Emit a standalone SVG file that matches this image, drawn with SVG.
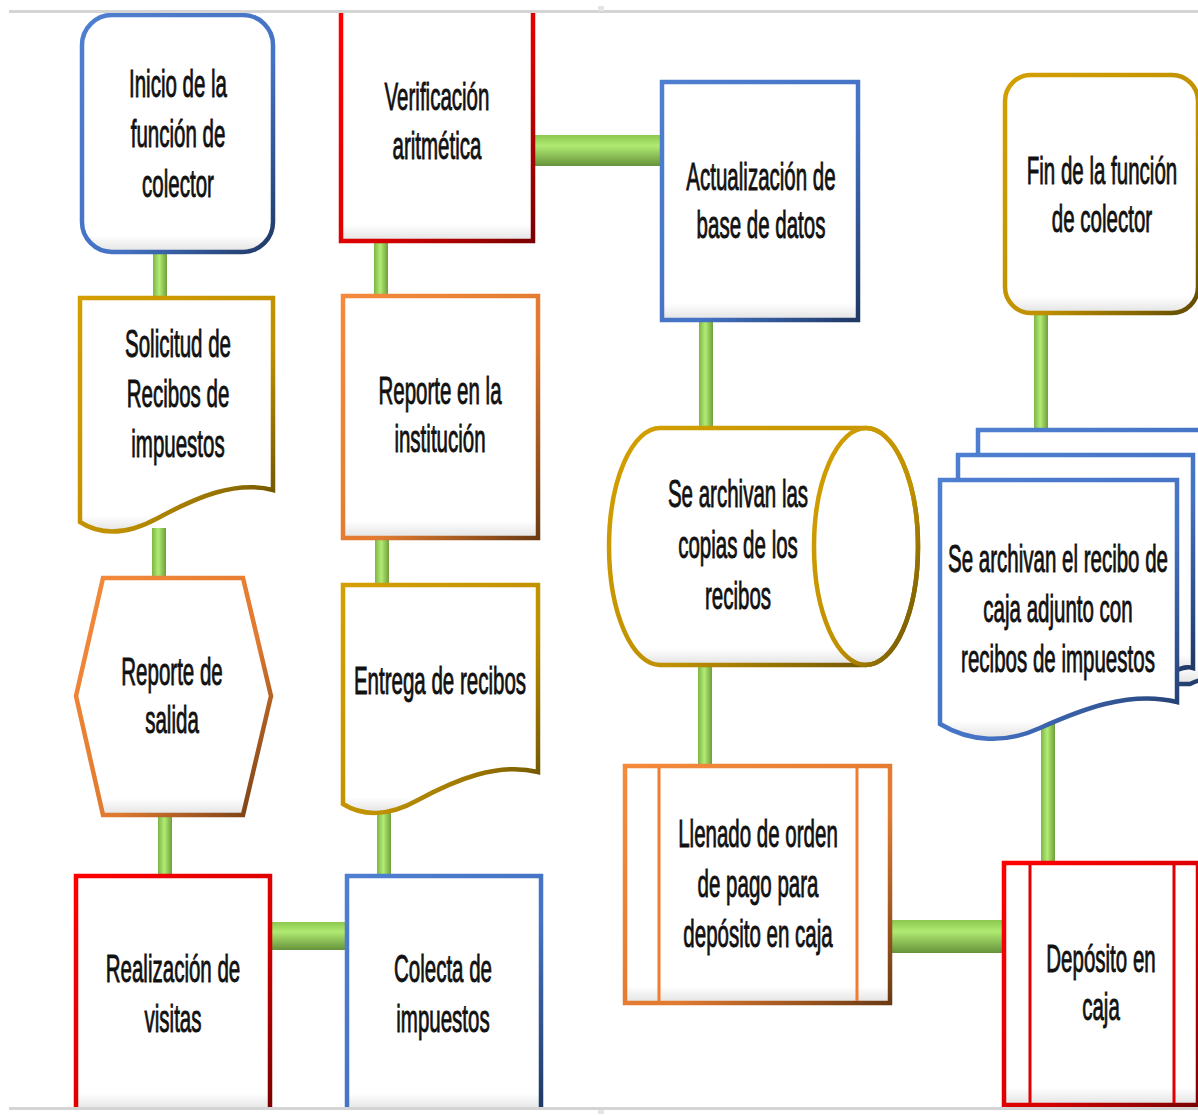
<svg xmlns="http://www.w3.org/2000/svg" width="1198" height="1115" viewBox="0 0 1198 1115">
<defs>
<linearGradient id="gBlue" x1="0" y1="0" x2="1" y2="1"><stop offset="0" stop-color="#4F7FD0"/><stop offset="0.6" stop-color="#4472C4"/><stop offset="1" stop-color="#1F3864"/></linearGradient>
<linearGradient id="gRed" x1="0" y1="0" x2="1" y2="1"><stop offset="0" stop-color="#FF0000"/><stop offset="0.6" stop-color="#D80000"/><stop offset="1" stop-color="#7A0000"/></linearGradient>
<linearGradient id="gGold" x1="0" y1="0" x2="1" y2="1"><stop offset="0" stop-color="#D4A000"/><stop offset="0.6" stop-color="#BF9000"/><stop offset="1" stop-color="#5F4A00"/></linearGradient>
<linearGradient id="gOrange" x1="0" y1="0" x2="1" y2="1"><stop offset="0" stop-color="#F58A3C"/><stop offset="0.6" stop-color="#E07A30"/><stop offset="1" stop-color="#6B3A12"/></linearGradient>
<linearGradient id="gFill" x1="0" y1="0" x2="0" y2="1"><stop offset="0" stop-color="#FFFFFF"/><stop offset="0.93" stop-color="#FFFFFF"/><stop offset="1" stop-color="#E2E2E2"/></linearGradient>
<linearGradient id="gV" x1="0" y1="0" x2="1" y2="0"><stop offset="0" stop-color="#7DB545"/><stop offset="0.45" stop-color="#B2EC74"/><stop offset="1" stop-color="#6E9E3A"/></linearGradient>
<linearGradient id="gH" x1="0" y1="0" x2="0" y2="1"><stop offset="0" stop-color="#8CC850"/><stop offset="0.35" stop-color="#B0EA72"/><stop offset="1" stop-color="#66923A"/></linearGradient>
</defs>
<style>
.t{font-family:"Liberation Sans",Arial,sans-serif;font-size:38px;fill:#111;stroke:#111;stroke-width:0.9;text-anchor:middle}
.b{fill:url(#gFill);stroke:url(#gBlue);stroke-width:4.5}
.r{fill:url(#gFill);stroke:url(#gRed);stroke-width:4.5}
.g{fill:url(#gFill);stroke:url(#gGold);stroke-width:4.5}
.o{fill:url(#gFill);stroke:url(#gOrange);stroke-width:4.5}
.lo{stroke:#ED7D31;stroke-width:3}
.lr{stroke:#E00000;stroke-width:3}
.cv{fill:url(#gV)}
.ch{fill:url(#gH)}
</style>
<rect width="1198" height="1115" fill="#FFFFFF"/>

<g id="connectors">
<rect class="cv" x="153" y="250" width="14" height="50"/>
<rect class="cv" x="152" y="528" width="14" height="52"/>
<rect class="cv" x="158" y="813" width="14" height="65"/>
<rect class="ch" x="268" y="922" width="81" height="28"/>
<rect class="cv" x="377" y="812" width="14" height="66"/>
<rect class="cv" x="375" y="536" width="14" height="51"/>
<rect class="cv" x="374" y="239" width="14" height="59"/>
<rect class="ch" x="531" y="135" width="133" height="31"/>
<rect class="cv" x="699" y="318" width="14" height="112"/>
<rect class="cv" x="698" y="663" width="14" height="105"/>
<rect class="ch" x="888" y="920" width="118" height="33"/>
<rect class="cv" x="1041" y="722" width="14" height="143"/>
<rect class="cv" x="1034" y="311" width="14" height="121"/>
</g>

<g id="inicio">
<rect class="b" x="82" y="15" width="191" height="237" rx="30"/>
<text class="t" transform="translate(178,97) scale(0.54,1)">Inicio de la</text>
<text class="t" transform="translate(178,147) scale(0.54,1)">función de</text>
<text class="t" transform="translate(178,197) scale(0.54,1)">colector</text>
</g>

<g id="solicitud">
<path class="g" d="M80,298 H273 V490 C235,480 195,498 158,518 C125,536 100,535 80,522 Z"/>
<text class="t" transform="translate(178,357) scale(0.54,1)">Solicitud de</text>
<text class="t" transform="translate(178,407) scale(0.54,1)">Recibos de</text>
<text class="t" transform="translate(178,457) scale(0.54,1)">impuestos</text>
</g>

<g id="reporte-salida">
<polygon class="o" points="103,578 243,578 271,696 243,815 103,815 76,696"/>
<text class="t" transform="translate(172,685) scale(0.54,1)">Reporte de</text>
<text class="t" transform="translate(172,733) scale(0.54,1)">salida</text>
</g>

<g id="realizacion">
<path class="r" d="M76,1110 V876 H270 V1110"/>
<text class="t" transform="translate(173,982) scale(0.54,1)">Realización de</text>
<text class="t" transform="translate(173,1032) scale(0.54,1)">visitas</text>
</g>

<g id="colecta">
<path class="b" d="M347,1110 V876 H541 V1110"/>
<text class="t" transform="translate(443,982) scale(0.54,1)">Colecta de</text>
<text class="t" transform="translate(443,1032) scale(0.54,1)">impuestos</text>
</g>

<g id="entrega">
<path class="g" d="M343,585 H538 V772 C498,762 455,780 418,800 C388,817 362,816 343,804 Z"/>
<text class="t" transform="translate(440,694) scale(0.54,1)">Entrega de recibos</text>
</g>

<g id="reporte-institucion">
<rect class="o" x="343" y="296" width="195" height="242"/>
<text class="t" transform="translate(440,404) scale(0.54,1)">Reporte en la</text>
<text class="t" transform="translate(440,452) scale(0.54,1)">institución</text>
</g>

<g id="verificacion">
<path class="r" d="M341,12 V241 H533 V12"/>
<text class="t" transform="translate(437,110) scale(0.54,1)">Verificación</text>
<text class="t" transform="translate(437,159) scale(0.54,1)">aritmética</text>
</g>

<g id="actualizacion">
<rect class="b" x="662" y="82" width="196" height="238"/>
<text class="t" transform="translate(761,190) scale(0.54,1)">Actualización de</text>
<text class="t" transform="translate(761,238) scale(0.54,1)">base de datos</text>
</g>

<g id="archivo-copias">
<path class="g" d="M660,428 H866 A52,118.5 0 0 1 866,665 H660 A51,118.5 0 0 1 660,428 Z"/>
<ellipse cx="866" cy="546.5" rx="52" ry="118.5" fill="none" stroke="url(#gGold)" stroke-width="4.5"/>
<text class="t" transform="translate(738,507) scale(0.54,1)">Se archivan las</text>
<text class="t" transform="translate(738,558) scale(0.54,1)">copias de los</text>
<text class="t" transform="translate(738,609) scale(0.54,1)">recibos</text>
</g>

<g id="llenado">
<rect class="o" x="625" y="766" width="265" height="237"/>
<line class="lo" x1="659" y1="768" x2="659" y2="1001"/>
<line class="lo" x1="857" y1="768" x2="857" y2="1001"/>
<text class="t" transform="translate(758,847) scale(0.54,1)">Llenado de orden</text>
<text class="t" transform="translate(758,897) scale(0.54,1)">de pago para</text>
<text class="t" transform="translate(758,947) scale(0.54,1)">depósito en caja</text>
</g>

<g id="deposito">
<rect class="r" x="1004" y="863" width="194" height="242"/>
<line class="lr" x1="1030" y1="865" x2="1030" y2="1103"/>
<line class="lr" x1="1174" y1="865" x2="1174" y2="1103"/>
<text class="t" transform="translate(1101,972) scale(0.54,1)">Depósito en</text>
<text class="t" transform="translate(1101,1020) scale(0.54,1)">caja</text>
</g>

<g id="archivo-recibos">
<path class="b" d="M978,430 H1212 V680 C1205,678 1198,680 1190,684 L978,684 Z"/>
<path class="b" d="M958,455 H1193 V668 C1187,666 1182,668 1177,670 L958,670 Z"/>
<path class="b" d="M940,480 H1177 V702 C1130,690 1080,710 1040,728 C1005,744 970,742 940,724 Z"/>
<text class="t" transform="translate(1058,572) scale(0.54,1)">Se archivan el recibo de</text>
<text class="t" transform="translate(1058,622) scale(0.54,1)">caja adjunto con</text>
<text class="t" transform="translate(1058,672) scale(0.54,1)">recibos de impuestos</text>
</g>

<g id="fin">
<rect class="g" x="1005" y="75" width="193" height="238" rx="26"/>
<text class="t" transform="translate(1102,184) scale(0.54,1)">Fin de la función</text>
<text class="t" transform="translate(1102,232) scale(0.54,1)">de colector</text>
</g>

<g id="frame">
<rect x="9" y="10" width="1189" height="3" fill="#D4D4D4"/>
<rect x="9" y="1107" width="1189" height="3" fill="#D4D4D4"/>
<rect x="598" y="6" width="6" height="5" fill="#E4E4E4"/>
<rect x="598" y="1110" width="6" height="4" fill="#E4E4E4"/>
</g>
</svg>
